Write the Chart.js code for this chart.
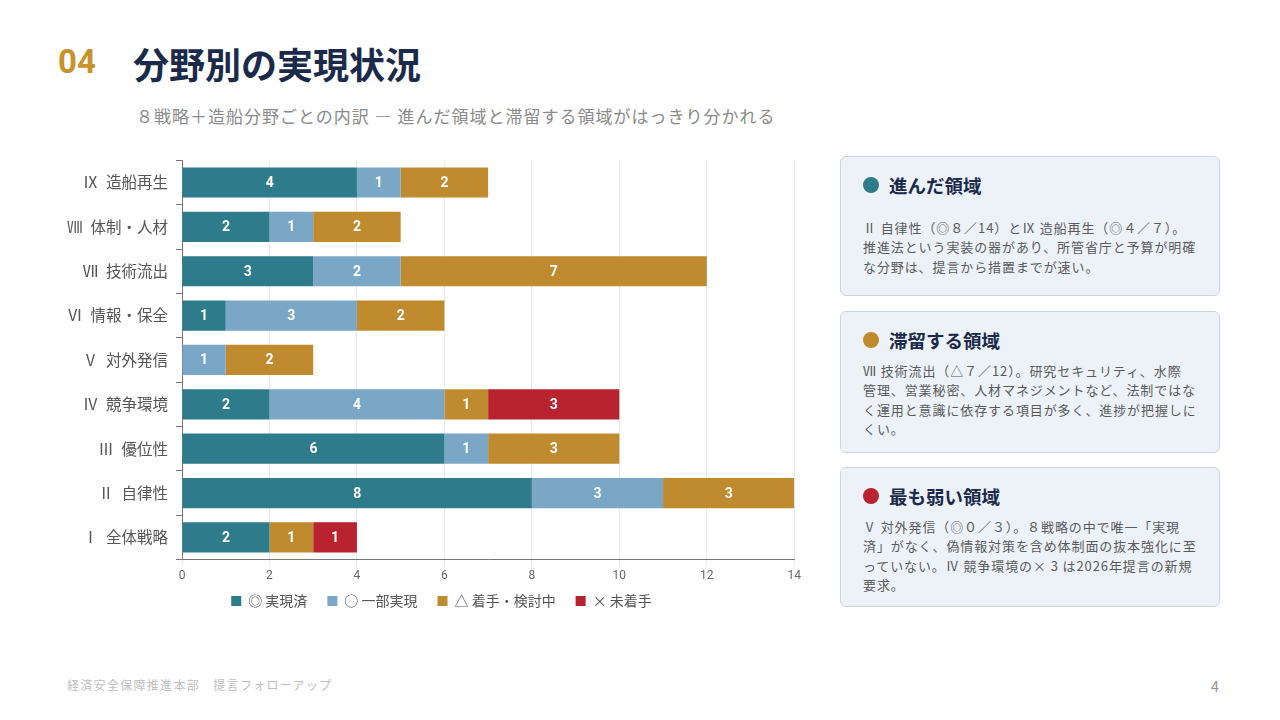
<!DOCTYPE html>
<html lang="ja">
<head>
    <meta charset="UTF-8">
    <title>分野別の実現状況</title>
    <script src="https://cdn.jsdelivr.net/npm/chart.js"></script>
    <style>
        body {
            margin: 0;
            width: 1280px;
            height: 720px;
            background: #ffffff;
            font-family: "Noto Sans CJK JP", "Noto Sans", sans-serif;
            position: relative;
            overflow: hidden;
        }

        .num {
            position: absolute;
            left: 58px;
            top: 42px;
            font-family: Roboto, "Noto Sans", sans-serif;
            font-weight: 700;
            font-size: 33px;
            color: #C8922E;
        }

        .title {
            position: absolute;
            left: 133px;
            top: 37px;
            font-size: 36px;
            font-weight: 700;
            color: #1B2A4A;
        }

        .subtitle {
            position: absolute;
            left: 136px;
            top: 103px;
            font-size: 17px;
            color: #8a8a8a;
            letter-spacing: 1px;
        }

        /* chart */
        .chart-box {
            position: absolute;
            left: 55px;
            top: 143px;
            width: 749px;
            height: 487px;
        }

        /* side cards */
        .card {
            position: absolute;
            left: 840px;
            width: 380px;
            background: #EDF2F9;
            border: 1px solid #CBD5E2;
            border-radius: 6px;
            box-sizing: border-box;
            padding: 15px 10px 0 22px;
        }

        .card h3 {
            margin: 0;
            font-size: 18.5px;
            font-weight: 700;
            color: #1B2A4A;
            display: flex;
            align-items: center;
        }

        .card h3 .dot {
            width: 16px;
            height: 16px;
            border-radius: 50%;
            margin-right: 10px;
            display: inline-block;
        }

        .card p {
            margin: 0;
            font-size: 13px;
            line-height: 19.4px;
            color: #5a5a5a;
            letter-spacing: 0.9px;
            white-space: nowrap;
        }

        .footer {
            position: absolute;
            left: 67px;
            top: 676px;
            font-size: 12px;
            color: #bdbdbd;
            letter-spacing: 1.3px;
        }

        .page {
            position: absolute;
            left: 1211px;
            top: 676px;
            font-size: 14px;
            color: #8f8f8f;
        }
    </style>
</head>
<body>
    <div class="num">04</div>
    <div class="title">分野別の実現状況</div>
    <div class="subtitle">８戦略＋造船分野ごとの内訳 ― 進んだ領域と滞留する領域がはっきり分かれる</div>

    <div class="chart-box">
        <canvas id="statusChart"></canvas>
    </div>

    <div class="card" style="top:156px; height:140px;">
        <h3><span class="dot" style="background:#2E7B8C"></span>進んだ領域</h3>
        <p style="margin-top:20px">Ⅱ 自律性（◎８／14）とⅨ 造船再生（◎４／７）。<br>推進法という実装の器があり、所管省庁と予算が明確<br>な分野は、提言から措置までが速い。</p>
    </div>

    <div class="card" style="top:311px; height:142px;">
        <h3><span class="dot" style="background:#C08A2E"></span>滞留する領域</h3>
        <p style="margin-top:8px">Ⅶ 技術流出（△７／12）。研究セキュリティ、水際<br>管理、営業秘密、人材マネジメントなど、法制ではな<br>く運用と意識に依存する項目が多く、進捗が把握しに<br>くい。</p>
    </div>

    <div class="card" style="top:467px; height:140px;">
        <h3><span class="dot" style="background:#B8232F"></span>最も弱い領域</h3>
        <p style="margin-top:8px">Ⅴ 対外発信（◎０／３）。８戦略の中で唯一「実現<br>済」がなく、偽情報対策を含め体制面の抜本強化に至<br>っていない。Ⅳ 競争環境の× 3 は2026年提言の新規<br>要求。</p>
    </div>

    <div class="footer">経済安全保障推進本部　提言フォローアップ</div>
    <div class="page">4</div>

    <script>
        // categories, top to bottom
        const fields = ['Ⅸ\u2002造船再生', 'Ⅷ\u2002体制・人材', 'Ⅶ\u2002技術流出', 'Ⅵ\u2002情報・保全', 'Ⅴ\u2002対外発信',
                        'Ⅳ\u2002競争環境', 'Ⅲ\u2002優位性', 'Ⅱ\u2002自律性', 'Ⅰ\u2002全体戦略'];

        const done     = [4, 2, 3, 1, 0, 2, 6, 8, 2];   // ◎ 実現済
        const partial  = [1, 1, 2, 3, 1, 4, 1, 3, 0];   // ○ 一部実現
        const started  = [2, 2, 7, 2, 2, 1, 3, 3, 1];   // △ 着手・検討中
        const notYet   = [0, 0, 0, 0, 0, 3, 0, 0, 1];   // × 未着手

        const xTicks = [0, 2, 4, 6, 8, 10, 12, 14];

        // white numbers in the middle of each segment
        const segmentLabels = {
            id: 'segmentLabels',
            afterDatasetsDraw(chart) {
                const ctx = chart.ctx;
                ctx.save();
                ctx.fillStyle = '#ffffff';
                ctx.font = 'bold 14px Roboto, "Liberation Sans", sans-serif';
                ctx.textAlign = 'center';
                ctx.textBaseline = 'middle';
                chart.data.datasets.forEach((ds, i) => {
                    const meta = chart.getDatasetMeta(i);
                    if (meta.hidden) return;
                    meta.data.forEach((bar, j) => {
                        const v = ds.data[j];
                        if (!v) return;
                        ctx.fillText(String(v), (bar.x + bar.base) / 2, bar.y + 1);
                    });
                });
                ctx.restore();
            }
        };

        // pull the legend a little closer to the axis and under the plot
        const legendNudge = {
            id: 'legendNudge',
            afterLayout(chart) {
                const lg = chart.legend;
                if (!lg) return;
                lg.top -= 12; lg.bottom -= 12;
                lg.left += 12; lg.right += 12;
            }
        };

        const ctx = document.getElementById('statusChart').getContext('2d');
        new Chart(ctx, {
            type: 'bar',
            data: {
                labels: fields,
                datasets: [
                    { label: '◎ 実現済', data: done, backgroundColor: '#2E7B8C' },
                    { label: '○ 一部実現', data: partial, backgroundColor: '#7BA7C7' },
                    { label: '△ 着手・検討中', data: started, backgroundColor: '#C08A2E' },
                    { label: '× 未着手', data: notYet, backgroundColor: '#B8232F' }
                ]
            },
            options: {
                indexAxis: 'y',
                responsive: true,
                maintainAspectRatio: false,
                animation: false,
                datasets: {
                    bar: { categoryPercentage: 1, barPercentage: 0.68 }
                },
                scales: {
                    x: {
                        stacked: true,
                        min: 0,
                        max: 14,
                        afterBuildTicks: axis => { axis.ticks = xTicks.map(v => ({ value: v })); },
                        grid: { color: '#e6e9ee', tickLength: 6 },
                        border: { color: '#777777' },
                        ticks: {
                            color: '#666666',
                            font: { family: 'Roboto, "Noto Sans", sans-serif', size: 12 }
                        }
                    },
                    y: {
                        stacked: true,
                        afterFit: axis => { axis.width = 127; },
                        grid: { drawOnChartArea: false, color: '#777777', tickLength: 6 },
                        border: { color: '#777777' },
                        ticks: {
                            color: '#555555',
                            padding: 8,
                            font: { family: '"Noto Sans CJK JP", sans-serif', size: 15.5 }
                        }
                    }
                },
                plugins: {
                    legend: {
                        position: 'bottom',
                        labels: {
                            boxWidth: 10,
                            boxHeight: 10,
                            padding: 20,
                            color: '#555555',
                            font: { family: '"Noto Sans CJK JP", sans-serif', size: 14 }
                        }
                    },
                    tooltip: { enabled: false }
                }
            },
            plugins: [segmentLabels, legendNudge]
        });
    </script>
</body>
</html>
